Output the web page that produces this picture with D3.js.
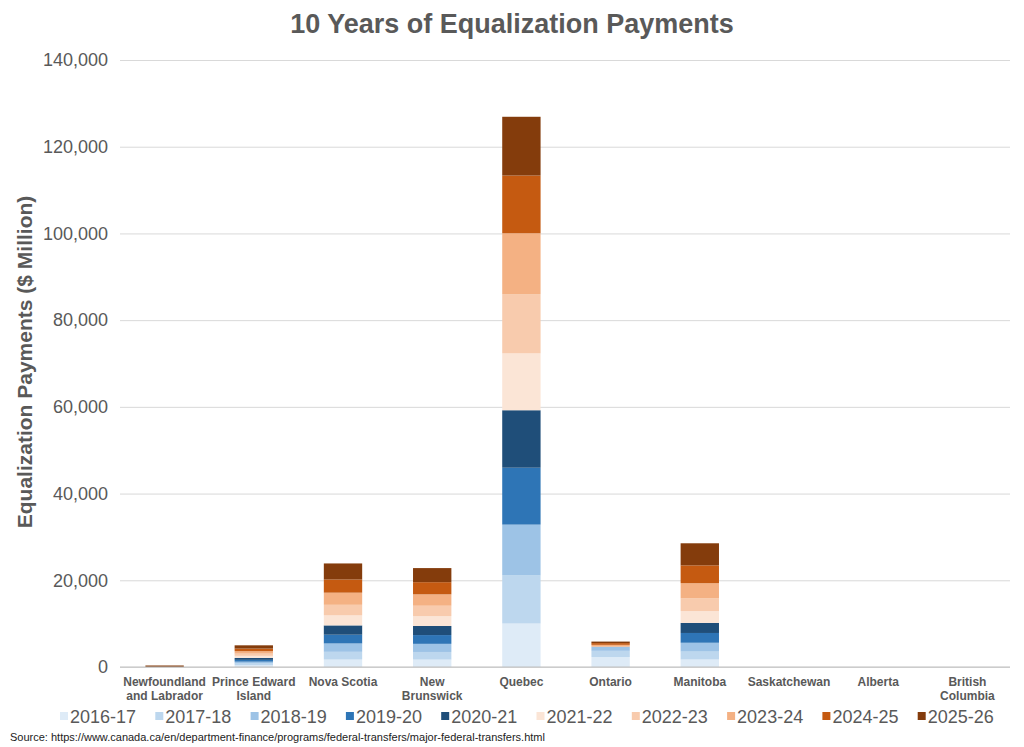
<!DOCTYPE html>
<html>
<head>
<meta charset="utf-8">
<script src="https://cdn.jsdelivr.net/npm/d3@7"></script>
<style>
  html, body { margin: 0; padding: 0; background: #fff; }
  svg { display: block; font-family: "Liberation Sans", Arial, sans-serif; }
</style>
</head>
<body>
<svg id="chart" width="1024" height="747"></svg>
<script>
// ---- Data ($ Million) ----
const provinces = ["Newfoundland and Labrador", "Prince Edward Island", "Nova Scotia", "New Brunswick", "Quebec", "Ontario", "Manitoba", "Saskatchewan", "Alberta", "British Columbia"];
const provinceLines = [["Newfoundland", "and Labrador"], ["Prince Edward", "Island"], ["Nova Scotia"], ["New", "Brunswick"], ["Quebec"], ["Ontario"], ["Manitoba"], ["Saskatchewan"], ["Alberta"], ["British", "Columbia"]];
const years = ["2016-17", "2017-18", "2018-19", "2019-20", "2020-21", "2021-22", "2022-23", "2023-24", "2024-25", "2025-26"];
const y2016 = [0, 390, 1722, 1708, 10030, 2304, 1736, 0, 0, 0];
const y2017 = [0, 419, 1779, 1760, 11081, 1424, 1820, 0, 0, 0];
const y2018 = [0, 419, 1933, 1874, 11732, 963, 2037, 0, 0, 0];
const y2019 = [0, 419, 2015, 2023, 13124, 0, 2255, 0, 0, 0];
const y2020 = [0, 436, 2146, 2094, 13253, 0, 2325, 0, 0, 0];
const y2021 = [0, 484, 2315, 2274, 13119, 0, 2719, 0, 0, 0];
const y2022 = [0, 520, 2432, 2399, 13666, 0, 2933, 0, 0, 0];
const y2023 = [0, 561, 2803, 2631, 14037, 421, 3510, 0, 0, 0];
const y2024 = [0, 603, 3039, 2800, 13313, 400, 4100, 0, 0, 0];
const y2025 = [350, 750, 3700, 3250, 13550, 350, 5100, 0, 0, 0];
const seriesValues = [y2016, y2017, y2018, y2019, y2020, y2021, y2022, y2023, y2024, y2025];
const colors = ["#DEEBF7", "#BDD7EE", "#9DC3E6", "#2E75B6", "#1F4E79", "#FBE5D6", "#F8CBAD", "#F4B183", "#C55A11", "#843C0C"];
const yTicks = [0, 20000, 40000, 60000, 80000, 100000, 120000, 140000];

// ---- Layout ----
const svg = d3.select("#chart");
const W = 1024, H = 747;
const plotL = 120, plotR = 1012, plotT = 60, plotB = 667;
const textColor = "#595959";

const x = d3.scaleBand().domain(provinces).range([plotL, plotR]).paddingInner(0.57).paddingOuter(0.285);
const y = d3.scaleLinear().domain([0, 140000]).range([plotB, plotT]);

// table for stack
const table = provinces.map((p, i) => {
  const row = { province: p };
  years.forEach((yr, k) => row[yr] = seriesValues[k][i]);
  return row;
});
const stacked = d3.stack().keys(years)(table);

// gridlines + y tick labels
const yAxis = d3.axisLeft(y).tickValues(yTicks).tickFormat(d3.format(",")).tickSize(-(plotR - 2 - plotL)).tickPadding(12);
const gy = svg.append("g").attr("transform", `translate(${plotL},0)`).call(yAxis);
gy.select(".domain").remove();
gy.selectAll(".tick line").attr("stroke", "#d9d9d9").attr("stroke-width", 1);
gy.selectAll(".tick text").attr("fill", textColor).style("font-size", "18px").attr("font-family", "Liberation Sans, Arial, sans-serif");

// bars
svg.append("g").selectAll("g").data(stacked).join("g")
  .attr("fill", (d, i) => colors[i])
  .selectAll("rect").data(d => d).join("rect")
  .attr("x", d => x(d.data.province))
  .attr("width", x.bandwidth())
  .attr("y", d => y(d[1]))
  .attr("height", d => Math.max(0, y(d[0]) - y(d[1])));

// baseline
svg.append("line").attr("x1", plotL).attr("x2", plotR - 2).attr("y1", y(0)).attr("y2", y(0))
  .attr("stroke", "#bfbfbf").attr("stroke-width", 1);

// category labels
const xAxis = d3.axisBottom(x).tickSize(0).tickFormat(() => "");
const gx = svg.append("g").attr("transform", `translate(0,${plotB})`).call(xAxis);
gx.select(".domain").remove();
gx.selectAll(".tick").each(function (d, i) {
  const t = d3.select(this).append("text")
    .attr("text-anchor", "middle").attr("fill", textColor)
    .style("font-size", "12px").style("font-weight", "bold")
    .attr("font-family", "Liberation Sans, Arial, sans-serif");
  provinceLines[i].forEach((ln, j) => {
    t.append("tspan").attr("x", 0).attr("y", 19 + j * 14).text(ln);
  });
});

// title
svg.append("text").attr("x", 512).attr("y", 33).attr("text-anchor", "middle")
  .attr("fill", textColor).style("font-size", "27px").style("font-weight", "bold")
  .text("10 Years of Equalization Payments");

// y axis title
svg.append("text").attr("transform", `translate(32,362) rotate(-90)`)
  .attr("text-anchor", "middle").attr("fill", textColor)
  .style("font-size", "21px").style("font-weight", "bold")
  .text("Equalization Payments ($ Million)");

// legend
const legend = svg.append("g").attr("transform", "translate(60,717)");
const itemW = 95.3;
years.forEach((yr, i) => {
  const g = legend.append("g").attr("transform", `translate(${i * itemW},0)`);
  g.append("rect").attr("x", 0).attr("y", -5).attr("width", 8).attr("height", 8).attr("fill", colors[i]);
  g.append("text").attr("x", 10).attr("y", 6).attr("fill", textColor)
    .style("font-size", "18px").text(yr);
});

// source
svg.append("text").attr("x", 10).attr("y", 741).attr("fill", "#222")
  .style("font-size", "11px")
  .text("Source: https://www.canada.ca/en/department-finance/programs/federal-transfers/major-federal-transfers.html");
</script>
</body>
</html>
